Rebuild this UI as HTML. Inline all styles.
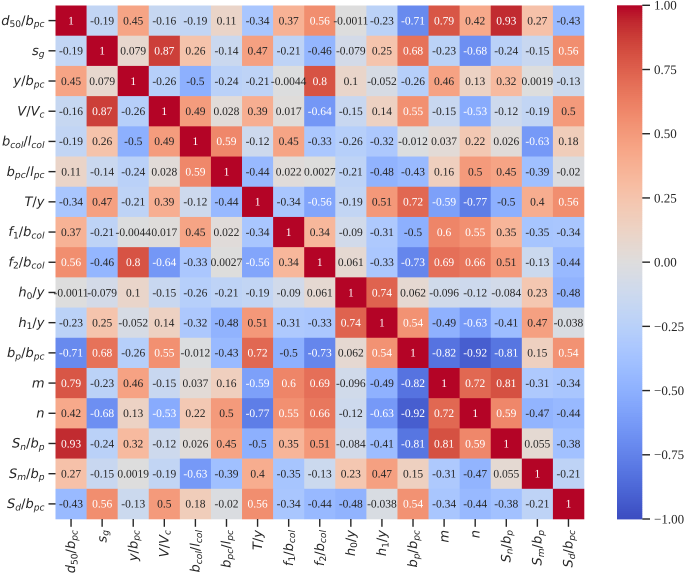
<!DOCTYPE html>
<html>
<head>
<meta charset="utf-8">
<style>
html,body{margin:0;padding:0;background:#fff;width:685px;height:575px;overflow:hidden}
svg{display:block;filter:blur(0.3px);text-rendering:geometricPrecision}
</style>
</head>
<body>
<svg id="chart" xmlns="http://www.w3.org/2000/svg" width="685" height="575" viewBox="0 0 685 575"></svg>
<script>
const variables = ["d_{50}/b_{pc}","s_{g}","y/b_{pc}","V/V_{c}","b_{col}/l_{col}","b_{pc}/l_{pc}","T/y","f_{1}/b_{col}","f_{2}/b_{col}","h_{0}/y","h_{1}/y","b_{p}/b_{pc}","m","n","S_{n}/b_{p}","S_{m}/b_{p}","S_{d}/b_{pc}"];
const row0 = [1,-0.19,0.45,-0.16,-0.19,0.11,-0.34,0.37,0.56,-0.0011,-0.23,-0.71,0.79,0.42,0.93,0.27,-0.43];
const row1 = [-0.19,1,0.079,0.87,0.26,-0.14,0.47,-0.21,-0.46,-0.079,0.25,0.68,-0.23,-0.68,-0.24,-0.15,0.56];
const row2 = [0.45,0.079,1,-0.26,-0.5,-0.24,-0.21,-0.0044,0.8,0.1,-0.052,-0.26,0.46,0.13,0.32,0.0019,-0.13];
const row3 = [-0.16,0.87,-0.26,1,0.49,0.028,0.39,0.017,-0.64,-0.15,0.14,0.55,-0.15,-0.53,-0.12,-0.19,0.5];
const row4 = [-0.19,0.26,-0.5,0.49,1,0.59,-0.12,0.45,-0.33,-0.26,-0.32,-0.012,0.037,0.22,0.026,-0.63,0.18];
const row5 = [0.11,-0.14,-0.24,0.028,0.59,1,-0.44,0.022,0.0027,-0.21,-0.48,-0.43,0.16,0.5,0.45,-0.39,-0.02];
const row6 = [-0.34,0.47,-0.21,0.39,-0.12,-0.44,1,-0.34,-0.56,-0.19,0.51,0.72,-0.59,-0.77,-0.5,0.4,0.56];
const row7 = [0.37,-0.21,-0.0044,0.017,0.45,0.022,-0.34,1,0.34,-0.09,-0.31,-0.5,0.6,0.55,0.35,-0.35,-0.34];
const row8 = [0.56,-0.46,0.8,-0.64,-0.33,0.0027,-0.56,0.34,1,0.061,-0.33,-0.73,0.69,0.66,0.51,-0.13,-0.44];
const row9 = [-0.0011,-0.079,0.1,-0.15,-0.26,-0.21,-0.19,-0.09,0.061,1,0.74,0.062,-0.096,-0.12,-0.084,0.23,-0.48];
const row10 = [-0.23,0.25,-0.052,0.14,-0.32,-0.48,0.51,-0.31,-0.33,0.74,1,0.54,-0.49,-0.63,-0.41,0.47,-0.038];
const row11 = [-0.71,0.68,-0.26,0.55,-0.012,-0.43,0.72,-0.5,-0.73,0.062,0.54,1,-0.82,-0.92,-0.81,0.15,0.54];
const row12 = [0.79,-0.23,0.46,-0.15,0.037,0.16,-0.59,0.6,0.69,-0.096,-0.49,-0.82,1,0.72,0.81,-0.31,-0.34];
const row13 = [0.42,-0.68,0.13,-0.53,0.22,0.5,-0.77,0.55,0.66,-0.12,-0.63,-0.92,0.72,1,0.59,-0.47,-0.44];
const row14 = [0.93,-0.24,0.32,-0.12,0.026,0.45,-0.5,0.35,0.51,-0.084,-0.41,-0.81,0.81,0.59,1,0.055,-0.38];
const row15 = [0.27,-0.15,0.0019,-0.19,-0.63,-0.39,0.4,-0.35,-0.13,0.23,0.47,0.15,-0.31,-0.47,0.055,1,-0.21];
const row16 = [-0.43,0.56,-0.13,0.5,0.18,-0.02,0.56,-0.34,-0.44,-0.48,-0.038,0.54,-0.34,-0.44,-0.38,-0.21,1];
const matrix = [row0,row1,row2,row3,row4,row5,row6,row7,row8,row9,row10,row11,row12,row13,row14,row15,row16];
const colorbarTicks = [1,0.75,0.5,0.25,0,-0.25,-0.5,-0.75,-1];
const coolwarm = [[59,76,192],[68,90,204],[77,104,215],[87,117,225],[98,130,234],[108,142,241],[119,154,247],[130,165,251],[141,176,254],[152,185,255],[163,194,255],[174,201,253],[184,208,249],[194,213,244],[204,217,238],[213,219,230],[221,221,221],[229,216,209],[236,211,197],[241,204,185],[245,196,173],[247,187,160],[247,177,148],[247,166,135],[244,154,123],[241,141,111],[236,127,99],[229,112,88],[222,96,77],[213,80,66],[203,62,56],[192,40,47],[180,4,38]];

const NS = "http://www.w3.org/2000/svg";
const svg = document.getElementById("chart");
const plot = {left:55.5, right:584, top:5.5, bottom:519};
const bar = {left:617, right:642.3, top:5.3, bottom:519};
const INK = "#262626";
const SERIF = '"Liberation Serif", serif';
const MATH = '"DejaVu Sans", sans-serif';

function xBand(i){ return plot.left + i * (plot.right - plot.left) / variables.length; }
function yBand(i){ return plot.top + i * (plot.bottom - plot.top) / variables.length; }
function barY(v){ return bar.bottom - (v + 1) / 2 * (bar.bottom - bar.top); }

function rgbFor(v){
  const t = Math.max(0, Math.min(1, (v + 1) / 2)) * (coolwarm.length - 1);
  const i = Math.min(coolwarm.length - 2, Math.floor(t));
  const f = t - i;
  return [0,1,2].map(k => coolwarm[i][k] + (coolwarm[i+1][k] - coolwarm[i][k]) * f);
}
function css(c){ return "rgb(" + c.map(Math.round).join(",") + ")"; }
function luminance(c){
  const l = c.map(x => { x /= 255; return x <= 0.03928 ? x / 12.92 : Math.pow((x + 0.055) / 1.055, 2.4); });
  return 0.2126 * l[0] + 0.7152 * l[1] + 0.0722 * l[2];
}
function mk(tag, attrs, parent){
  const el = document.createElementNS(NS, tag);
  for (const k in attrs) el.setAttribute(k, attrs[k]);
  parent.appendChild(el);
  return el;
}
function mathLabel(textEl, src){
  const parts = src.split(/(_\{[^}]*\})/).filter(Boolean);
  let lowered = false;
  parts.forEach(p => {
    const isSub = p[0] === "_";
    const body = isSub ? p.slice(2, -1) : p;
    body.split(/(\/|\d+)/).filter(Boolean).forEach((chunk, idx) => {
      const ts = mk("tspan", {}, textEl);
      ts.textContent = chunk;
      ts.setAttribute("font-style", /^(\/|\d+)$/.test(chunk) ? "normal" : "italic");
      if (isSub) ts.setAttribute("font-size", "9.1");
      if (idx === 0) {
        if (isSub && !lowered) { ts.setAttribute("dy", "2.2"); lowered = true; }
        else if (!isSub && lowered) { ts.setAttribute("dy", "-2.2"); lowered = false; }
      }
    });
  });
}

const cellsGroup = mk("g", {}, svg);


const annotGroup = mk("g", {"font-family":SERIF, "font-size":"11.5", "text-anchor":"middle"}, svg);



matrix.forEach((row, r) => {
  row.forEach((v, c) => {
    const col = rgbFor(v);
    const rect = mk("rect", {x:xBand(c), y:yBand(r), width:xBand(c+1)-xBand(c)+0.3, height:yBand(r+1)-yBand(r)+0.3, fill:css(col)}, cellsGroup);
    
    
    const t = mk("text", {x:(xBand(c)+xBand(c+1))/2, y:(yBand(r)+yBand(r+1))/2+3.8, fill: luminance(col) < 0.415 ? "#ffffff" : INK}, annotGroup);
    t.textContent = String(v);
    
    
  });
});

const yAxis = mk("g", {"font-family":MATH, "font-size":"13", fill:INK}, svg);


const xAxis = mk("g", {"font-family":MATH, "font-size":"13", fill:INK}, svg);



variables.forEach((name, i) => {
  const cy = (yBand(i) + yBand(i+1)) / 2;
  const yt = mk("line", {x1:48.5, x2:plot.left, y1:cy, y2:cy, stroke:INK, "stroke-width":1.4}, yAxis);
  
  
  const yl = mk("text", {x:44.5, y:cy+4.2, "text-anchor":"end"}, yAxis);
  mathLabel(yl, name);
  
  

  const cx = (xBand(i) + xBand(i+1)) / 2;
  const xt = mk("line", {x1:cx, x2:cx, y1:plot.bottom, y2:526.8, stroke:INK, "stroke-width":1.4}, xAxis);
  
  
  const xl = mk("text", {x:0, y:0, "text-anchor":"end", transform:"translate(" + (cx+4.2) + ",530) rotate(-90)"}, xAxis);
  mathLabel(xl, name);
  
  
});

const cbar = mk("g", {}, svg);


const STEPS = 256;
for (let s = 0; s < STEPS; s++) {
  const v0 = -1 + 2 * s / STEPS;
  const v1 = -1 + 2 * (s + 1) / STEPS;
  const seg = mk("rect", {x:bar.left, y:barY(v1), width:bar.right-bar.left, height:barY(v0)-barY(v1)+0.4, fill:css(rgbFor((v0+v1)/2))}, cbar);
  
  
}
colorbarTicks.forEach(v => {
  const y = barY(v);
  const tk = mk("line", {x1:bar.right, x2:650, y1:y, y2:y, stroke:INK, "stroke-width":1.4}, cbar);
  
  
  const lb = mk("text", {x:654, y:y+4.4, fill:INK, "font-family":SERIF, "font-size":"13"}, cbar);
  lb.textContent = (v < 0 ? "\u2212" : "") + Math.abs(v).toFixed(2);
  
  
});
</script>
</body>
</html>
